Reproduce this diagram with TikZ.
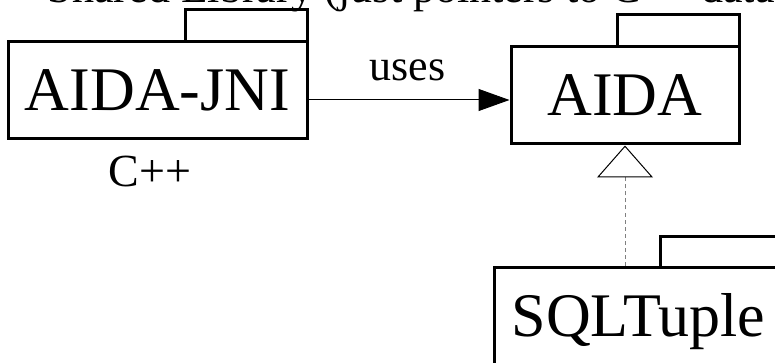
\documentclass[tikz,border=0pt]{standalone}
\usepackage{fontspec}
\setmainfont{Liberation Serif}
\usetikzlibrary{arrows.meta}
\tikzset{
  pkg/.style={draw, line width=3pt, inner sep=0pt, text height=41pt, text depth=0pt,
              minimum height=97pt, font=\fontsize{62}{70}\selectfont},
  tab/.style={draw, line width=3pt},
  small/.style={font=\fontsize{44}{50}\selectfont, inner sep=0pt},
  uses/.style={line width=1pt, -{Triangle[length=31pt, width=22pt]}},
  realize/.style={line width=1pt, gray, dash pattern=on 4pt off 3pt,
                  -{Triangle[open, length=32pt, width=56pt, color=black, line width=1pt]}}
}
\begin{document}
\begin{tikzpicture}[x=1pt, y=1pt]
  \useasboundingbox (0,0) rectangle (775,-363);
  \clip (0,0) rectangle (775,-363);
  % top clipped caption
  \node[small, anchor=base] (caption) at (418.5,-3) {Shared Library (just pointers to C++ data)};
  % packages
  \node[pkg, minimum width=299pt] (jni) at (157.5,-90.5) {AIDA-JNI};
  \draw[tab] (185,-42) rectangle (307,-10);
  \node[pkg, minimum width=228pt] (aida) at (625,-95.5) {AIDA};
  \draw[tab] (617,-47) rectangle (739,-15);
  \node[pkg, minimum width=289pt] (sql) at (638.5,-315.5) {SQLTuple};
  \draw[tab] (660,-267) rectangle (783,-236);
  % labels
  \node[small, anchor=base, font=\fontsize{46}{52}\selectfont] (cpp) at (150,-187) {C++};
  \node[small, anchor=base] (useslbl) at (407.5,-81) {uses};
  % connectors
  \coordinate (ay) at (0,-100);
  \draw[uses] (jni.east |- ay) -- (aida.west |- ay);
  \draw[realize] (sql.north -| aida.south) -- (aida.south);
\end{tikzpicture}
\end{document}
